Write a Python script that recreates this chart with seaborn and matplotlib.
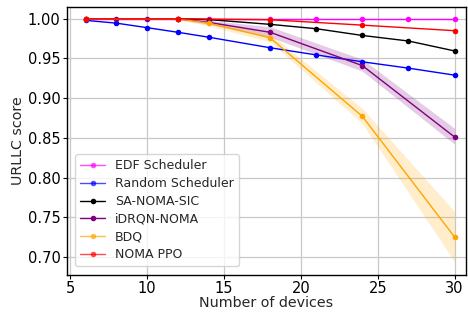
import pandas as pd
import seaborn as sns
import matplotlib.pyplot as plt

# x positions per series
x_edf = [6, 14, 18, 21, 24, 27, 30]
y_edf = [1.0, 1.0, 1.0, 1.0, 1.0, 1.0, 1.0]

x_rand = [6, 8, 10, 12, 14, 18, 21, 24, 27, 30]
y_rand = [0.998, 0.9945, 0.9888, 0.983, 0.9768, 0.9635, 0.9545, 0.9458, 0.9378, 0.929]

x_sa = [6, 12, 14, 18, 21, 24, 27, 30]
y_sa = [1.0, 1.0, 0.999, 0.993, 0.9875, 0.979, 0.972, 0.9595]

x_idrqn = [6, 8, 10, 12, 14, 18, 24, 30]
y_idrqn = [1.0, 1.0, 1.0, 1.0, 0.9955, 0.983, 0.941, 0.851]
lo_idrqn = [1.0, 1.0, 1.0, 0.999, 0.993, 0.977, 0.934, 0.842]
hi_idrqn = [1.0, 1.0, 1.0, 1.0, 0.998, 0.99, 0.949, 0.862]

x_bdq = [6, 12, 14, 18, 24, 30]
y_bdq = [1.0, 1.0, 0.9945, 0.976, 0.877, 0.725]
lo_bdq = [1.0, 0.999, 0.991, 0.971, 0.868, 0.694]
hi_bdq = [1.0, 1.0, 0.998, 0.981, 0.887, 0.757]

x_ppo = [6, 12, 18, 24, 30]
y_ppo = [1.0, 1.0, 0.9988, 0.992, 0.985]

names = ["EDF Scheduler", "Random Scheduler", "SA-NOMA-SIC", "iDRQN-NOMA", "BDQ", "NOMA PPO"]
colors = ["magenta", "blue", "black", "purple", "orange", "red"]

series = [(x_edf, y_edf), (x_rand, y_rand), (x_sa, y_sa),
          (x_idrqn, y_idrqn), (x_bdq, y_bdq), (x_ppo, y_ppo)]
frames = []
for name, (xs, ys) in zip(names, series):
    frames.append(pd.DataFrame({"devices": xs, "score": ys, "method": name}))
df = pd.concat(frames, ignore_index=True)

sns.set_style("ticks")
plt.rcParams["font.family"] = ["DejaVu Sans"]

fig = plt.figure(figsize=(4.68, 3.13), dpi=100)
ax = fig.add_axes([0.143, 0.121, 0.853, 0.857])

ax.fill_between(x_idrqn, lo_idrqn, hi_idrqn, color="purple", alpha=0.2, linewidth=0)
ax.fill_between(x_bdq, lo_bdq, hi_bdq, color="orange", alpha=0.2, linewidth=0)

sns.lineplot(data=df, x="devices", y="score", hue="method", hue_order=names,
             palette=colors, marker="o", markersize=4, markeredgewidth=0,
             linewidth=1, ax=ax)

ax.grid(True, color="#c8c8c8", linewidth=0.9)
ax.set_xlim(4.78, 30.75)
ax.set_ylim(0.677, 1.015)
ax.set_xticks([5, 10, 15, 20, 25, 30])
ax.set_yticks([0.70, 0.75, 0.80, 0.85, 0.90, 0.95, 1.00])
ax.set_yticklabels(["0.70", "0.75", "0.80", "0.85", "0.90", "0.95", "1.00"])
ax.tick_params(labelsize=10.5, length=3, pad=1.5, color="black", labelcolor="black")
ax.set_xlabel("Number of devices", fontsize=10.3, labelpad=0)
ax.set_ylabel("URLLC score", fontsize=10.3, labelpad=2)
for s in ax.spines.values():
    s.set_color("black")
    s.set_linewidth(1.0)

leg = ax.legend(loc="lower left", fontsize=9, frameon=True, handlelength=2,
                borderpad=0.4, labelspacing=0.38, bbox_to_anchor=(0.005, 0.01))
for h in leg.get_lines()[:2] + leg.get_lines()[4:]:
    h.set_alpha(0.7)

fig.savefig("out.png", dpi=100)
